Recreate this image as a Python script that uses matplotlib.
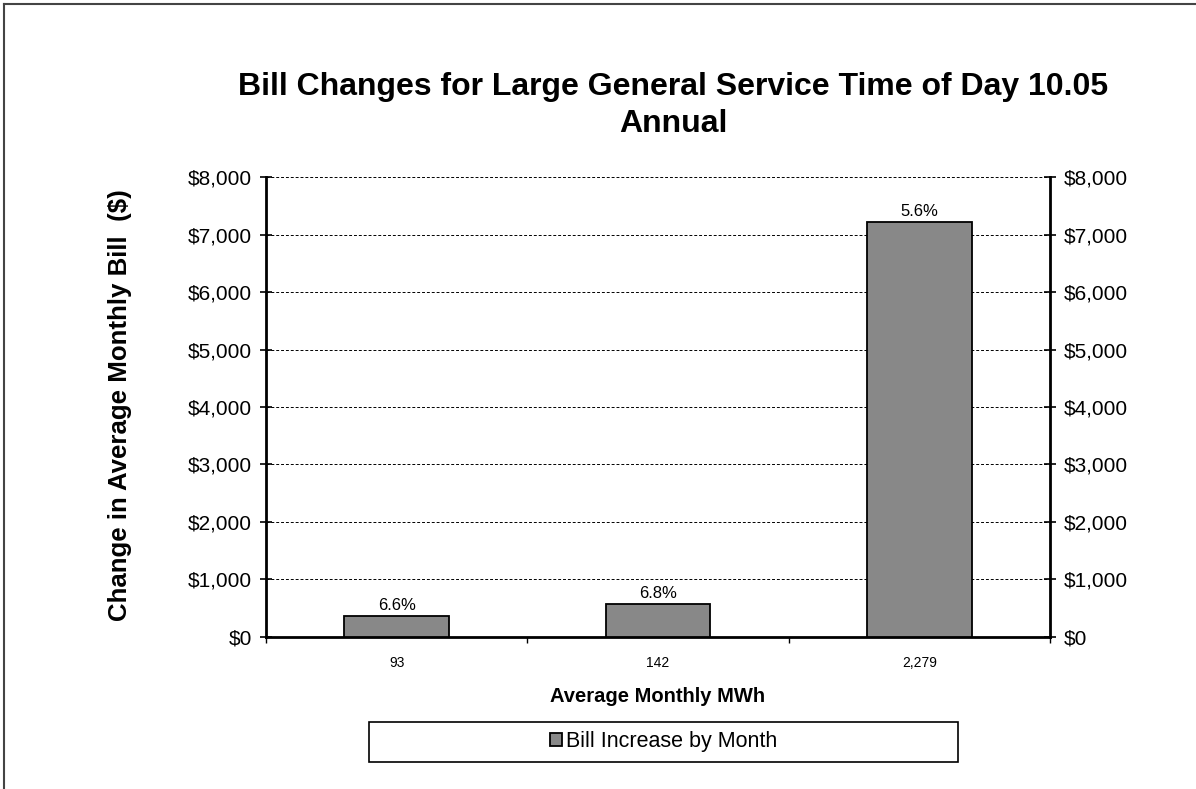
import matplotlib

matplotlib.use("Agg")
import matplotlib.pyplot as plt
from matplotlib.lines import Line2D
from matplotlib.patches import Rectangle
from matplotlib.ticker import FuncFormatter, MultipleLocator
import numpy as np

plt.rcParams["font.family"] = ["Liberation Sans", "DejaVu Sans"]

# usage buckets (average monthly MWh) and monthly bill change
usage_labels = ["93", "142", "2,279"]
bill_increase = [366, 575, 7230]
pct_increase = ["6.6%", "6.8%", "5.6%"]

TITLE = "Bill Changes for Large General Service Time of Day 10.05"
SUBTITLE = "Annual"
BAR_COLOR = "#888888"

W, H = 1196, 789


def dollars(v, _pos):
    return f"${v:,.0f}"


fig = plt.figure(figsize=(W / 100, H / 100), dpi=100)
ax = fig.add_axes([0.2224, 0.1930, 0.6555, 0.5823])

x = np.arange(len(usage_labels))
bars = ax.bar(x, bill_increase, width=0.4, color=BAR_COLOR, edgecolor="black",
              linewidth=1.3, zorder=3, label="Bill Increase by Month")

for bar, lab in zip(bars, pct_increase):
    ax.text(bar.get_x() + bar.get_width() / 2, bar.get_height() + 40, lab,
            ha="center", va="bottom", fontsize=12, zorder=4)

ax.set_xlim(-0.5, len(usage_labels) - 0.5)
ax.set_ylim(0, 8000)
ax.yaxis.set_major_locator(MultipleLocator(1000))
ax.yaxis.set_major_formatter(FuncFormatter(dollars))
ax.grid(axis="y", color="black", linestyle=(0, (3, 2)), linewidth=0.7, zorder=0)
ax.set_axisbelow(True)

# category labels sit between the boundary ticks
ax.set_xticks(x)
ax.set_xticklabels(usage_labels, fontsize=10)
ax.tick_params(axis="x", which="major", length=0, pad=14)
ax.set_xticks(np.arange(len(usage_labels) + 1) - 0.5, minor=True)
ax.tick_params(axis="x", which="minor", length=4, width=1, direction="out")

ax.tick_params(axis="y", labelsize=15, direction="inout", length=8, width=1.2,
               left=True, right=True, labelleft=True, labelright=True, pad=6)

for side in ("left", "right", "bottom"):
    ax.spines[side].set_linewidth(2)
ax.spines["top"].set_visible(False)

ax.set_xlabel("Average Monthly MWh", fontsize=14.5, fontweight="bold", labelpad=12)

fig.text(120 / W, 1 - 405 / H, "Change in Average Monthly Bill  ($)",
         rotation=90, ha="center", va="center", fontsize=18.6, fontweight="bold")

fig.text(673 / W, 1 - 95 / H, TITLE, ha="center", va="baseline",
         fontsize=23, fontweight="bold")
fig.text(673 / W, 1 - 132 / H, SUBTITLE, ha="center", va="baseline",
         fontsize=23, fontweight="bold")

# legend frame spans a fixed box; entry is centred inside it
box = (369 / W, 1 - 762 / H, 589 / W, 40 / H)
fig.add_artist(Rectangle(box[:2], box[2], box[3], transform=fig.transFigure,
                         facecolor="white", edgecolor="black", linewidth=1.2))
leg = fig.legend(handles=[bars], loc="center",
                 bbox_to_anchor=(box[0] + box[2] / 2, box[1] + box[3] / 2),
                 fontsize=15.5, frameon=False, handlelength=0.55, handleheight=0.55,
                 handletextpad=0.2, borderpad=0.2)

# outer chart-area border (top and left edges)
fig.add_artist(Line2D([4 / W, 4 / W], [0, 1 - 4 / H], transform=fig.transFigure,
                      color="#444444", linewidth=1.5))
fig.add_artist(Line2D([4 / W, 1], [1 - 4 / H, 1 - 4 / H], transform=fig.transFigure,
                      color="#444444", linewidth=1.5))

fig.savefig("out.png", dpi=100)
